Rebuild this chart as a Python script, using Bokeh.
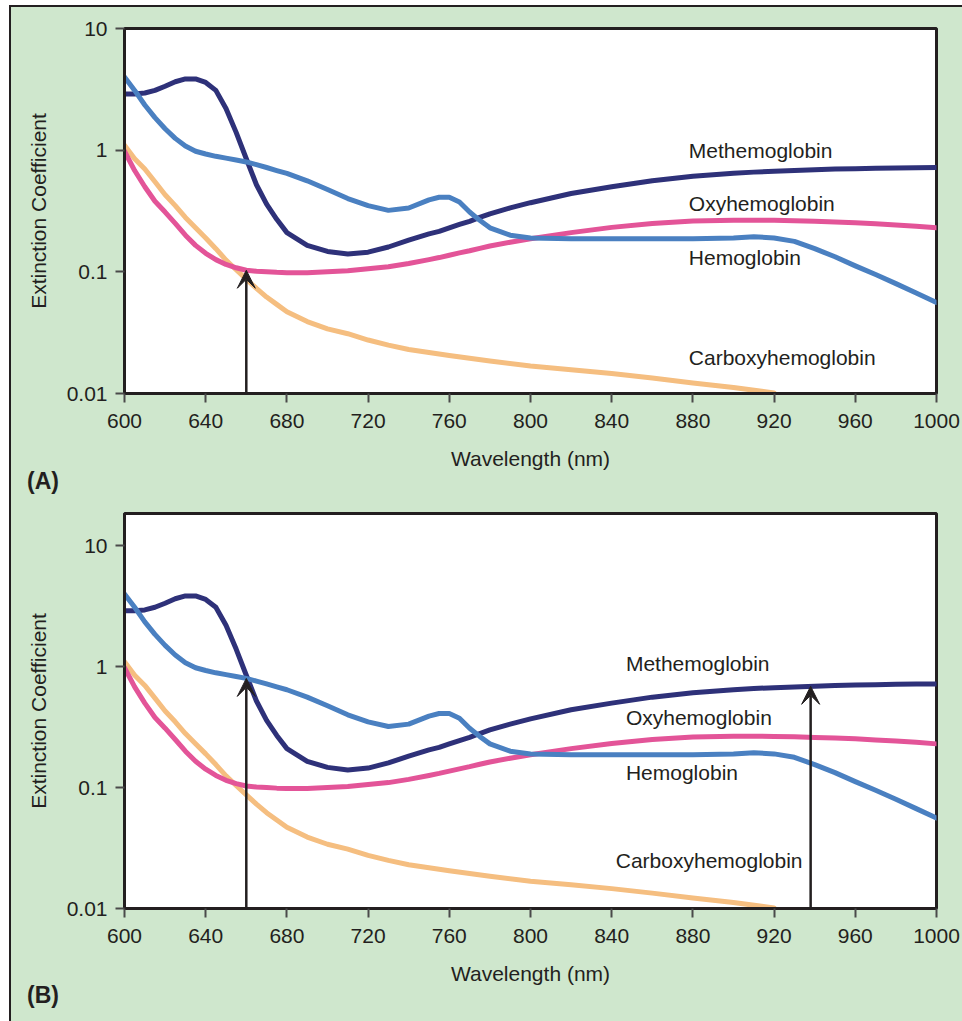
import numpy as np
from bokeh.plotting import figure
from bokeh.layouts import column
from bokeh.models import Range1d, FixedTicker, CustomJSTickFormatter, Arrow, VeeHead, Div
from bokeh.core.properties import value
from bokeh.embed import file_html
from bokeh.resources import INLINE

# ---------------- data ----------------
wavelength = [600, 605, 610, 615, 620, 625, 630, 635, 640, 645, 650, 655, 660, 665, 670, 675,
              680, 690, 700, 710, 720, 730, 740, 750, 755, 760, 765, 770, 775, 780, 790, 800,
              820, 840, 860, 880, 900, 910, 920, 930, 940, 950, 960, 970, 980, 990, 1000]

methemoglobin = [2.9, 2.9, 2.95, 3.1, 3.35, 3.65, 3.85, 3.85, 3.6, 3.1, 2.2, 1.4, 0.85, 0.52, 0.36, 0.27,
                 0.21, 0.165, 0.147, 0.14, 0.145, 0.16, 0.182, 0.205, 0.215, 0.23, 0.245, 0.26, 0.28, 0.30, 0.335, 0.37,
                 0.44, 0.50, 0.56, 0.61, 0.645, 0.66, 0.67, 0.68, 0.69, 0.70, 0.705, 0.71, 0.715, 0.718, 0.72]

hemoglobin = [4.0, 3.1, 2.35, 1.85, 1.5, 1.25, 1.08, 0.98, 0.93, 0.89, 0.86, 0.83, 0.8, 0.76, 0.72, 0.68,
              0.645, 0.56, 0.475, 0.4, 0.35, 0.32, 0.335, 0.39, 0.41, 0.41, 0.375, 0.31, 0.265, 0.23, 0.2, 0.19,
              0.187, 0.187, 0.187, 0.187, 0.19, 0.194, 0.19, 0.178, 0.155, 0.133, 0.112, 0.095, 0.08, 0.067, 0.056]

oxyhemoglobin = [0.98, 0.68, 0.5, 0.38, 0.31, 0.25, 0.2, 0.165, 0.142, 0.126, 0.115, 0.108, 0.103, 0.101, 0.1, 0.099,
                 0.0985, 0.0985, 0.1, 0.102, 0.106, 0.11, 0.117, 0.126, 0.131, 0.137, 0.143, 0.149, 0.156, 0.163, 0.175, 0.187,
                 0.21, 0.232, 0.25, 0.262, 0.266, 0.266, 0.265, 0.263, 0.26, 0.257, 0.253, 0.248, 0.243, 0.237, 0.23]

carboxy_wavelength = [600, 605, 610, 615, 620, 625, 630, 635, 640, 645, 650, 655, 660, 665, 670, 675,
                      680, 690, 700, 710, 720, 730, 740, 760, 780, 800, 820, 840, 860, 880, 900, 920]
carboxyhemoglobin = [1.1, 0.85, 0.7, 0.55, 0.43, 0.35, 0.28, 0.23, 0.19, 0.155, 0.125, 0.104, 0.087, 0.073, 0.062, 0.054,
                     0.047, 0.039, 0.034, 0.031, 0.0275, 0.025, 0.023, 0.0205, 0.0185, 0.0168, 0.0157, 0.0146, 0.0134, 0.0122, 0.0112, 0.0101]

x_ticks = [600, 640, 680, 720, 760, 800, 840, 880, 920, 960, 1000]
y_ticks = [0.01, 0.1, 1, 10]
y_tick_labels = ["0.01", "0.1", "1", "10"]

series_names = ["Methemoglobin", "Oxyhemoglobin", "Hemoglobin", "Carboxyhemoglobin"]
label_x_a = [878, 878, 878, 878]
label_y_a = [0.99, 0.363, 0.13, 0.0196]
label_x_b = [847, 847, 847, 842]
label_y_b = [1.06, 0.38, 0.133, 0.025]

arrows_a = [(660, "Oxyhemoglobin")]
arrows_b = [(660, "Hemoglobin"), (938, "Methemoglobin")]

panel_letters = ["(A)", "(B)"]

# ---------------- style ----------------
GREEN = "#cfe7cd"
DARK = "#231f20"
FONT = "Liberation Sans"
COLORS = {"Methemoglobin": "#2e3179", "Hemoglobin": "#4a80c1",
          "Oxyhemoglobin": "#e35498", "Carboxyhemoglobin": "#f5be80"}

series = {
    "Methemoglobin": (wavelength, methemoglobin),
    "Hemoglobin": (wavelength, hemoglobin),
    "Oxyhemoglobin": (wavelength, oxyhemoglobin),
    "Carboxyhemoglobin": (carboxy_wavelength, carboxyhemoglobin),
}


def value_at(name, wl):
    xs, ys = series[name]
    return float(10 ** np.interp(wl, xs, np.log10(ys)))


def make_panel(height, border_top, border_bottom, y_top, lab_x, lab_y, arrow_list):
    p = figure(width=951, height=height, x_range=Range1d(600, 1000), y_range=Range1d(0.01, y_top),
               y_axis_type="log", output_backend="svg", toolbar_location=None,
               min_border_left=113, min_border_right=26, min_border_top=border_top,
               min_border_bottom=border_bottom, background_fill_color="white",
               border_fill_color=GREEN, outline_line_color=DARK, outline_line_width=3)
    p.xgrid.visible = False
    p.ygrid.visible = False

    for ax in (p.xaxis[0], p.yaxis[0]):
        ax.axis_line_color = DARK
        ax.axis_line_width = 3
        ax.major_tick_line_color = "#4a4a4a"
        ax.major_tick_line_width = 2
        ax.major_tick_out = 9
        ax.major_tick_in = 0
        ax.minor_tick_line_color = None
        ax.major_label_text_font = FONT
        ax.major_label_text_font_size = "21px"
        ax.major_label_text_color = DARK
        ax.axis_label_text_font = FONT
        ax.axis_label_text_font_size = "21px"
        ax.axis_label_text_font_style = "normal"
        ax.axis_label_text_color = DARK

    p.xaxis.ticker = FixedTicker(ticks=x_ticks)
    p.xaxis.major_label_standoff = 11
    p.xaxis.axis_label = "Wavelength (nm)"
    p.xaxis.axis_label_standoff = 16
    p.yaxis.ticker = FixedTicker(ticks=y_ticks)
    p.yaxis.major_label_standoff = 8
    p.yaxis.formatter = CustomJSTickFormatter(
        args=dict(vals=y_ticks, labels=y_tick_labels),
        code="""
            for (let i = 0; i < vals.length; i++) {
                if (Math.abs(Math.log10(tick) - Math.log10(vals[i])) < 1e-6) { return labels[i]; }
            }
            return "";
        """)
    p.yaxis.axis_label = "Extinction Coefficient"
    p.yaxis.axis_label_standoff = 14

    for name in ["Carboxyhemoglobin", "Oxyhemoglobin", "Methemoglobin", "Hemoglobin"]:
        xs, ys = series[name]
        p.line(xs, ys, line_color=COLORS[name], line_width=5, line_join="round", line_cap="round")

    p.text(x=lab_x, y=lab_y, text=series_names, text_font=value(FONT), text_font_size="21px",
           text_color=DARK, text_baseline="middle", text_align="left")

    for wl, name in arrow_list:
        tip = value_at(name, wl)
        p.add_layout(Arrow(x_start=wl, y_start=0.01, x_end=wl, y_end=tip,
                           line_color=DARK, line_width=2.5,
                           end=VeeHead(size=18, fill_color=DARK, line_color=DARK, line_width=1)))
    return p


def letter_div(letter, height, line_height):
    html = ('<div style="font-family:\'Liberation Sans\',Arial,sans-serif;font-size:23px;'
            'font-weight:bold;color:%s;line-height:%dpx;padding-left:16px;margin:0;">%s</div>'
            % (DARK, line_height, letter))
    return Div(text=html, width=951, height=height, margin=0)


pA = make_panel(465, 21, 79, 10, label_x_a, label_y_a, arrows_a)
dA = letter_div(panel_letters[0], 28, 18)
pB = make_panel(487, 13, 79, 18.5, label_x_b, label_y_b, arrows_b)
dB = letter_div(panel_letters[1], 34, 16)

layout = column(pA, dA, pB, dB, spacing=0, margin=(5, 0, 0, 9),
                styles={"border-left": "2px solid #231f20", "border-top": "2px solid #231f20",
                        "background-color": GREEN})

open("out.html", "w").write(file_html(layout, INLINE))
